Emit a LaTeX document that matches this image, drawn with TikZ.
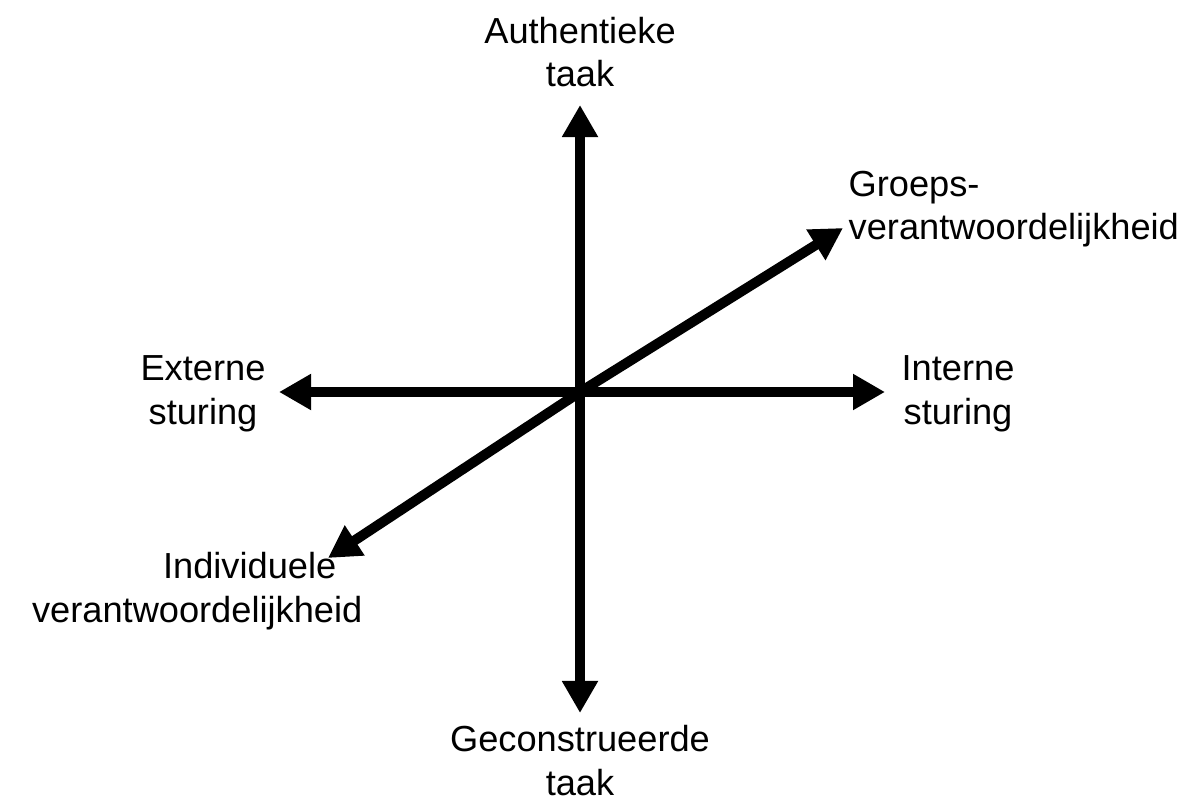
\documentclass[tikz,border=0pt]{standalone}
\usepackage{fontspec}
\setmainfont{Liberation Sans}
\usetikzlibrary{arrows.meta}
\begin{document}
\begin{tikzpicture}[x=0.01cm,y=-0.01cm,
  axis/.style={line width=0.1cm,-{Triangle[length=0.32cm,width=0.34cm]}},
  lbl/.style={inner sep=0pt,font=\fontsize{10.3pt}{12.5pt}\selectfont}]
\useasboundingbox (0,0) rectangle (1195,807);
\coordinate (O) at (580,392);
\coordinate (top) at (580,105);
\coordinate (bot) at (580,713);
\coordinate (lft) at (279,392);
\coordinate (rgt) at (885,392);
\coordinate (ne) at (843,228);
\coordinate (sw) at (328,558);
\draw[axis] (O) -- (top);
\draw[axis] (O) -- (bot);
\draw[axis] (O) -- (lft);
\draw[axis] (O) -- (rgt);
\draw[axis] (O) -- (ne);
\draw[axis] (O) -- (sw);
\node[lbl,align=center,anchor=base] (auth) at (580,87) {Authentieke\\taak};
\node[lbl,align=left,anchor=base west] (groep) at (848,240) {Groeps-\\verantwoordelijkheid};
\node[lbl,align=center,anchor=base] (ext) at (203,424) {Externe\\sturing};
\node[lbl,align=center,anchor=base] (int) at (958,424) {Interne\\sturing};
\node[lbl,align=right,anchor=base east] (ind) at (363,622) {Individuele\hspace*{0.26cm}\\verantwoordelijkheid};
\node[lbl,align=center,anchor=base] (gec) at (580,795) {Geconstrueerde\\taak};
\end{tikzpicture}
\end{document}
